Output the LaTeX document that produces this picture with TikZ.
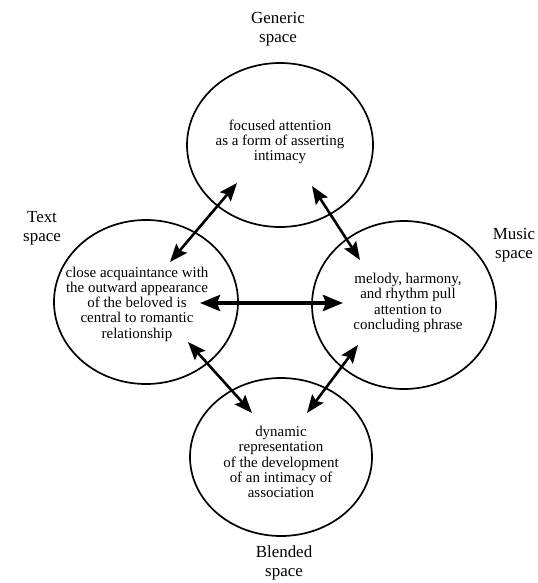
\documentclass[tikz,border=0pt]{standalone}
\usepackage{fontspec}
\setmainfont{Liberation Serif}
\usetikzlibrary{shapes.geometric,arrows.meta}
\begin{document}
\begin{tikzpicture}[x=1bp,y=-1bp,
  space/.style={draw,line width=1.7bp,ellipse,inner sep=0pt},
  inner/.style={align=center,font=\fontsize{15}{15.3}\selectfont,inner sep=0pt},
  lbl/.style={align=center,font=\fontsize{17}{19}\selectfont,inner sep=0pt},
  link/.style={line width=2.6bp,{Stealth[length=18bp,width=14bp,inset=3bp]}-{Stealth[length=18bp,width=14bp,inset=3bp]}},
  biglink/.style={line width=3.8bp,{Stealth[length=20bp,width=16bp,inset=3bp]}-{Stealth[length=20bp,width=16bp,inset=3bp]}}]
\useasboundingbox (0,0) rectangle (538,583);
% circles
\node[space,minimum width=186bp,minimum height=164bp] (gen) at (280,145) {};
\node[space,minimum width=184bp,minimum height=164bp] (txt) at (146,302) {};
\node[space,minimum width=184bp,minimum height=168bp] (mus) at (404,305) {};
\node[space,minimum width=182bp,minimum height=158bp] (bld) at (281,457) {};
% inner texts
\node[inner] (gent) at (280,142) {focused attention\\as a form of asserting\\intimacy};
\node[inner] (txtt) at (137,304) {close acquaintance with\\the outward appearance\\of the beloved is\\central to romantic\\relationship};
\node[inner] (must) at (408,303) {melody, harmony,\\and rhythm pull\\attention to\\concluding phrase};
\node[inner] (bldt) at (281,462) {dynamic\\representation\\of the development\\of an intimacy of\\association};
% labels
\node[lbl] (genl) at (278,29) {Generic\\space};
\node[lbl] (txtl) at (42,228) {Text\\space};
\node[lbl] (musl) at (514,245) {Music\\space};
\node[lbl] (bldl) at (284,563) {Blended\\space};
% arrow ends
\coordinate (a1) at (170,262); \coordinate (a2) at (237,183);
\coordinate (b1) at (312,186); \coordinate (b2) at (360,260);
\coordinate (c1) at (188,342); \coordinate (c2) at (252,413);
\coordinate (d1) at (358,345); \coordinate (d2) at (307,413);
\coordinate (h1) at (200,303); \coordinate (h2) at (343,303);
\draw[link] (a1) -- (a2);
\draw[link] (b1) -- (b2);
\draw[link] (c1) -- (c2);
\draw[link] (d1) -- (d2);
\draw[biglink] (h1) -- (h2);
\end{tikzpicture}
\end{document}
